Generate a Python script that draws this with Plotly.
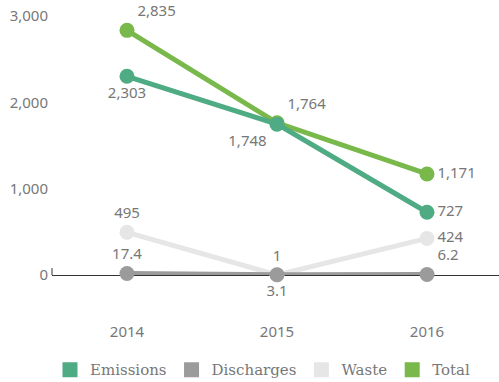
import plotly.graph_objects as go

years = ["2014", "2015", "2016"]
emissions = [2303, 1748, 727]
discharges = [17.4, 3.1, 6.2]
waste = [495, 1, 424]
total = [2835, 1764, 1171]

emissions_lbl = ["2,303", "1,748", "727"]
discharges_lbl = ["17.4", "3.1", "6.2"]
waste_lbl = ["495", "1", "424"]
total_lbl = ["2,835", "1,764", "1,171"]

c_em = "#4fab84"
c_dis = "#9b9b9b"
c_waste = "#e6e6e6"
c_tot = "#79b84a"
lbl_font = dict(family="Noto Sans", size=15, color="#777777")


def series(y, txt, pos, color):
    return go.Scatter(x=years, y=y, text=txt, textposition=pos,
                      mode="lines+markers+text", showlegend=False,
                      line=dict(color=color, width=5),
                      marker=dict(color=color, size=15),
                      textfont=lbl_font, cliponaxis=False, hoverinfo="skip")


data = [
    series(waste, waste_lbl, ["top center", "top center", "middle right"], c_waste),
    series(total, total_lbl, ["top right", "top right", "middle right"], c_tot),
    series(emissions, emissions_lbl, ["bottom center", "bottom left", "middle right"], c_em),
    series(discharges, discharges_lbl, ["top center", "bottom center", "top right"], c_dis),
]

# legend swatches
for name, color in [("Emissions", c_em), ("Discharges", c_dis), ("Waste", c_waste), ("Total", c_tot)]:
    data.append(go.Scatter(x=[None], y=[None], name=name, mode="markers",
                           marker=dict(color=color, size=15, symbol="square")))

layout = go.Layout(
    width=499, height=382,
    margin=dict(l=52, r=0, t=0, b=107, autoexpand=False),
    paper_bgcolor="white", plot_bgcolor="white",
    xaxis=dict(type="category", range=[-0.5, 2.48], showgrid=False, zeroline=False,
               showline=False, ticks="", ticklabelstandoff=46, automargin=False,
               tickfont=dict(family="Noto Sans", size=15, color="#777777")),
    yaxis=dict(range=[0, 3187], tickvals=[0, 1000, 2000, 3000],
               ticktext=["0", "1,000", "2,000", "3,000"],
               showgrid=False, zeroline=True, zerolinecolor="#333333", zerolinewidth=1,
               showline=False, ticks="", ticklabelstandoff=3, automargin=False,
               tickfont=dict(family="Noto Sans", size=15, color="#777777")),
    legend=dict(orientation="h", x=0.472, xanchor="center", y=-0.345, yanchor="middle",
                font=dict(family="DejaVu Serif", size=15, color="#777777"),
                itemwidth=30),
    shapes=[dict(type="line", xref="paper", yref="y", x0=0, x1=0, y0=0, y1=80,
                 line=dict(color="#333333", width=1))],
)

fig = go.Figure(data=data, layout=layout)
# drop the default 8px page margin so the figure sits at the window's corner
fig.write_html("out.html", config={"displayModeBar": False},
               post_script="document.body.style.margin='0';")
